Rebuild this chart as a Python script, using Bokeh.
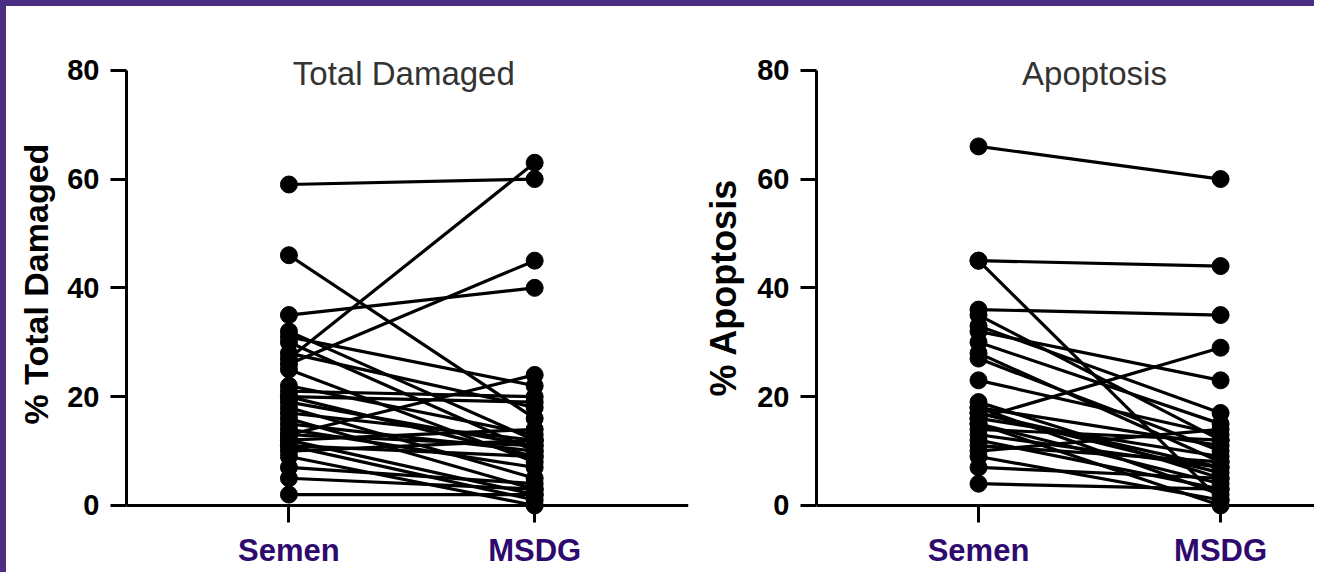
from bokeh.plotting import figure
from bokeh.layouts import row, column
from bokeh.models import FixedTicker, Label, Div, Title
from bokeh.embed import file_html
from bokeh.resources import INLINE

# ---- data ----
groups = ["Semen", "MSDG"]
y_ticks = [0, 20, 40, 60, 80]
titles = ["Total Damaged", "Apoptosis"]
y_labels = ["% Total Damaged", "% Apoptosis"]

damaged_semen = [59, 46, 35, 32, 31, 30, 28, 27, 26, 25, 22, 21, 20, 20, 19, 18,
                 17, 16, 15, 14, 13, 13, 12, 12, 11, 11, 10, 9, 7, 5, 2]
damaged_msdg = [60, 16, 40, 12, 22, 10, 18, 63, 45, 8, 13, 20, 19, 9, 11, 5,
                12, 3, 10, 7, 24, 11, 2, 14, 1, 9, 12, 0, 4, 3, 2]

apoptosis_semen = [66, 45, 45, 36, 35, 33, 32, 30, 28, 27, 23, 19, 18, 18, 17, 17,
                   16, 16, 15, 15, 14, 13, 12, 11, 10, 9, 7, 4]
apoptosis_msdg = [60, 44, 1, 35, 12, 17, 23, 15, 8, 10, 13, 5, 11, 2, 7, 6,
                  29, 9, 4, 0, 12, 7, 3, 8, 14, 1, 5, 3]

FONT = "Liberation Sans"
PURPLE_TEXT = "#2E0A6E"
BORDER_PURPLE = "#4B2D84"
BAND = 6
TOTAL_W = 1314
TOTAL_H = 572
FIG_H = TOTAL_H - BAND
SPLIT = 690
PX_PER_UNIT = (505 - 70) / 80.0
Y_START = -(TOTAL_H - 505) / PX_PER_UNIT


def make_panel(semen, msdg, title, ylabel, width, b_left, b_right, x_range, title_x,
               ylab_size, ylab_offset, ylab_standoff):
    p = figure(width=width, height=FIG_H, x_range=x_range, y_range=(Y_START, 84),
               output_backend="svg", toolbar_location=None,
               min_border_left=b_left, min_border_right=b_right,
               min_border_top=48 - BAND, min_border_bottom=0,
               background_fill_color="white", border_fill_color="white",
               outline_line_color=None)
    p.xgrid.visible = False
    p.ygrid.visible = False

    xs = [[1, 2] for _ in semen]
    ys = [[s, m] for s, m in zip(semen, msdg)]
    p.multi_line(xs=xs, ys=ys, line_color="black", line_width=3.2)
    p.scatter(x=[1] * len(semen), y=semen, size=17, color="black")
    p.scatter(x=[2] * len(msdg), y=msdg, size=17, color="black")

    # x axis, sitting at y = 0
    xa = p.xaxis[0]
    xa.fixed_location = 0
    xa.ticker = FixedTicker(ticks=[1, 2])
    xa.major_label_overrides = {1: groups[0], 2: groups[1]}
    xa.axis_line_width = 3
    xa.major_tick_line_width = 3
    xa.major_tick_out = 17
    xa.major_tick_in = 0
    xa.minor_tick_line_color = None
    xa.major_label_text_font = FONT
    xa.major_label_text_font_size = "31px"
    xa.major_label_text_font_style = "bold"
    xa.major_label_text_color = PURPLE_TEXT
    xa.major_label_standoff = 11

    # y axis
    ya = p.yaxis[0]
    ya.ticker = FixedTicker(ticks=y_ticks)
    ya.bounds = (0, 80)
    ya.axis_line_width = 3
    ya.major_tick_line_width = 3
    ya.major_tick_out = 16
    ya.major_tick_in = 0
    ya.minor_tick_line_color = None
    ya.major_label_text_font = FONT
    ya.major_label_text_font_size = "29px"
    ya.major_label_text_font_style = "bold"
    ya.major_label_text_color = "black"
    ya.major_label_standoff = 11

    # y-axis title, placed along the 0-80 span of the axis
    p.add_layout(Title(text=ylabel, align="left", offset=ylab_offset,
                       vertical_align="middle", standoff=ylab_standoff,
                       text_font=FONT, text_font_size=ylab_size,
                       text_font_style="bold", text_color="black"), "left")

    p.add_layout(Label(x=title_x, y=80, text=title, text_font=FONT,
                       text_font_size="33px", text_color="#333333",
                       text_align="center", text_baseline="middle", y_offset=-3))
    return p


p1 = make_panel(damaged_semen, damaged_msdg, titles[0], y_labels[0],
                SPLIT - BAND, 125 - BAND, SPLIT - 688, (0.339, 2.626), 1.4675,
                "34px", 148, 18)
p2 = make_panel(apoptosis_semen, apoptosis_msdg, titles[1], y_labels[1],
                TOTAL_W - SPLIT, 816 - SPLIT, 0, (0.3306, 2.388), 1.479,
                "36px", 176, 20)

top_band = Div(text="", width=TOTAL_W, height=BAND, margin=0,
               styles={"background-color": BORDER_PURPLE})
left_band = Div(text="", width=BAND, height=FIG_H, margin=0,
                styles={"background-color": BORDER_PURPLE})

layout = column(top_band, row(left_band, p1, p2, spacing=0), spacing=0)
open("out.html", "w").write(file_html(layout, INLINE))
